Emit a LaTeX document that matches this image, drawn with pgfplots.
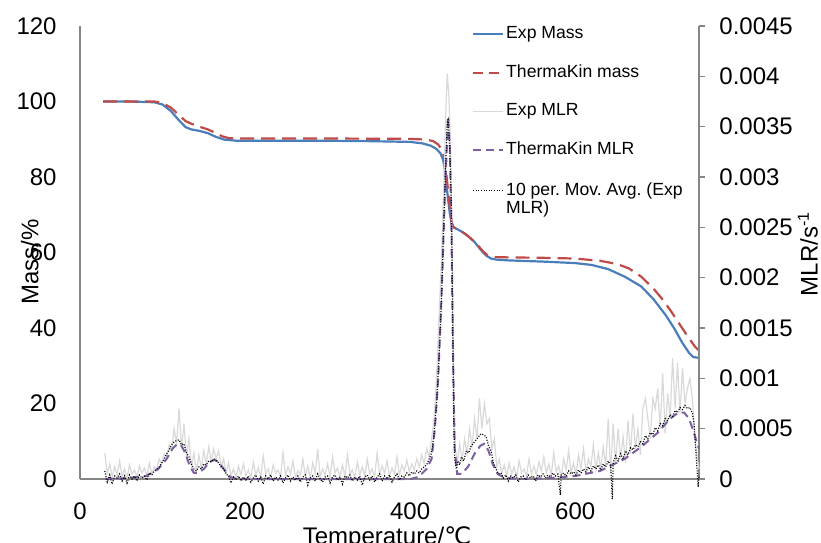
\documentclass[border=0pt]{standalone}
\usepackage{pgfplots}
\usepackage{pgfplotstable}
\pgfplotsset{compat=1.18}
\usepackage{fontspec}
\setmainfont{Liberation Sans}
\newfontfamily\dejavu{DejaVu Sans}
\definecolor{cblue}{HTML}{4A7EBB}
\definecolor{cred}{HTML}{BE4B48}
\definecolor{cpurple}{HTML}{7D60A0}
\definecolor{cgray}{HTML}{D9D9D9}
\definecolor{caxis}{HTML}{868686}

\pgfplotstableread[row sep=\\]{
x y\\
28 100\\ 60 100\\ 90 99.8\\ 100 99.2\\ 110 97.5\\ 120 95\\ 128 93.2\\ 135 92.6\\ 145 92.2\\ 155 91.6\\
165 90.6\\ 175 89.9\\ 190 89.6\\ 250 89.6\\ 300 89.6\\ 350 89.5\\ 400 89.3\\ 415 88.9\\ 425 88.3\\ 432 87.4\\
437 86.2\\ 440 84.5\\ 442 82\\ 444 78\\ 446 74\\ 448 70.5\\ 450 68\\ 452 66.8\\ 456 66.3\\ 462 65.6\\
470 64.4\\ 478 62.8\\ 486 60.6\\ 492 59.2\\ 498 58.4\\ 505 58.1\\ 520 57.9\\ 560 57.6\\ 600 57.2\\ 620 56.7\\
640 55.6\\ 660 53.6\\ 680 51.0\\ 695 47.6\\ 710 43.3\\ 720 39.9\\ 730 36.0\\ 738 33.4\\ 743 32.3\\ 750 32.1\\
}\tblexpmass

\pgfplotstableread[row sep=\\]{
x y\\
28 100\\ 90 100\\ 100 99.6\\ 110 98.4\\ 120 96.4\\ 128 94.8\\ 135 94.1\\ 145 93.3\\ 155 92.6\\ 165 91.6\\
172 90.8\\ 180 90.3\\ 200 90.2\\ 300 90.2\\ 400 90.1\\ 420 89.9\\ 428 89.5\\ 434 88.6\\ 438 87.3\\ 441 85.5\\
443 82.5\\ 445 78.5\\ 447 74\\ 449 70\\ 451 67.5\\ 453 66.6\\ 458 66.2\\ 465 65.2\\ 472 64\\ 480 62.4\\
488 60.4\\ 494 59.2\\ 500 58.8\\ 520 58.7\\ 560 58.6\\ 600 58.4\\ 630 57.8\\ 650 57\\ 665 55.8\\ 680 53.6\\
695 50.4\\ 705 47.8\\ 715 44.8\\ 725 41.5\\ 735 38.2\\ 745 35.1\\ 750 34\\
}\tbltkmass

\pgfplotstableread[row sep=\\]{
x y\\
30 0\\ 60 0.1e-4\\ 80 0.3e-4\\ 95 1.0e-4\\ 105 2.0e-4\\ 112 3.0e-4\\ 118 3.5e-4\\ 123 3.3e-4\\ 128 2.5e-4\\ 133 1.3e-4\\
138 0.6e-4\\ 143 0.6e-4\\ 150 1.0e-4\\ 157 1.7e-4\\ 163 1.9e-4\\ 168 1.7e-4\\ 175 0.9e-4\\ 182 0.2e-4\\ 190 0\\ 400 0\\
410 0.2e-4\\ 420 1.0e-4\\ 426 2.0e-4\\ 430 5.0e-4\\ 434 10e-4\\ 438 18e-4\\ 442 28e-4\\ 446 36e-4\\ 448 33e-4\\ 450 25e-4\\
452 12e-4\\ 454 3e-4\\ 457 0.5e-4\\ 462 0.5e-4\\ 470 1.2e-4\\ 478 2.5e-4\\ 485 3.3e-4\\ 490 3.5e-4\\ 495 2.8e-4\\ 500 1.5e-4\\
506 0.5e-4\\ 515 0.1e-4\\ 540 0\\ 570 0.1e-4\\ 600 0.3e-4\\ 630 0.8e-4\\ 660 2.0e-4\\ 680 3.2e-4\\ 700 4.6e-4\\ 715 6.0e-4\\
725 6.6e-4\\ 732 6.6e-4\\ 738 6.0e-4\\ 743 4.8e-4\\ 748 3.5e-4\\ 750 3.0e-4\\
}\tbltkmlr

\pgfplotstableread[row sep=\\]{
x y\\
30 2.6e-4\\ 33 0.5e-4\\ 36 1.5e-4\\ 39 0.2e-4\\ 42 1.2e-4\\ 45 0.4e-4\\ 48 1.8e-4\\ 51 0.3e-4\\ 54 1.0e-4\\ 57 0.1e-4\\
60 1.4e-4\\ 63 0.5e-4\\ 66 0.9e-4\\ 69 0.2e-4\\ 72 1.3e-4\\ 75 0.6e-4\\ 78 1.1e-4\\ 81 0.3e-4\\ 84 1.6e-4\\ 87 0.5e-4\\
90 1.2e-4\\ 93 1.0e-4\\ 96 2.0e-4\\ 99 1.5e-4\\ 102 2.5e-4\\ 105 2.2e-4\\ 108 3.4e-4\\ 111 2.8e-4\\ 114 5.0e-4\\ 117 3.5e-4\\
120 7.0e-4\\ 123 3.0e-4\\ 126 5.5e-4\\ 129 2.2e-4\\ 132 4.0e-4\\ 135 1.2e-4\\ 138 2.6e-4\\ 141 0.8e-4\\ 144 2.4e-4\\ 147 1.0e-4\\
150 2.8e-4\\ 153 1.5e-4\\ 156 3.2e-4\\ 159 1.8e-4\\ 162 3.0e-4\\ 165 2.0e-4\\ 168 2.8e-4\\ 171 1.2e-4\\ 174 2.0e-4\\ 177 0.6e-4\\
180 1.6e-4\\ 183 0.3e-4\\ 186 1.0e-4\\ 189 0.2e-4\\ 192 1.3e-4\\ 195 0.4e-4\\ 198 1.5e-4\\ 201 0.3e-4\\ 204 0.9e-4\\ 207 0.1e-4\\
210 1.7e-4\\ 213 0.4e-4\\ 216 1.1e-4\\ 219 0.2e-4\\ 222 2.3e-4\\ 225 0.5e-4\\ 228 1.0e-4\\ 231 0.1e-4\\ 234 1.4e-4\\ 237 0.6e-4\\
240 0.9e-4\\ 243 0.2e-4\\ 246 2.6e-4\\ 249 0.3e-4\\ 252 1.2e-4\\ 255 0.5e-4\\ 258 1.8e-4\\ 261 0.2e-4\\ 264 0.8e-4\\ 267 0.4e-4\\
270 2.0e-4\\ 273 0.3e-4\\ 276 1.3e-4\\ 279 0.1e-4\\ 282 1.6e-4\\ 285 0.5e-4\\ 288 3.0e-4\\ 291 0.2e-4\\ 294 1.0e-4\\ 297 0.4e-4\\
300 1.5e-4\\ 303 0.2e-4\\ 306 2.2e-4\\ 309 0.6e-4\\ 312 1.1e-4\\ 315 0.2e-4\\ 318 1.4e-4\\ 321 0.3e-4\\ 324 2.4e-4\\ 327 0.5e-4\\
330 0.9e-4\\ 333 0.1e-4\\ 336 1.7e-4\\ 339 0.4e-4\\ 342 1.2e-4\\ 345 0.3e-4\\ 348 2.0e-4\\ 351 0.5e-4\\ 354 1.0e-4\\ 357 0.2e-4\\
360 2.6e-4\\ 363 0.4e-4\\ 366 1.3e-4\\ 369 0.6e-4\\ 372 1.8e-4\\ 375 0.3e-4\\ 378 1.1e-4\\ 381 0.5e-4\\ 384 2.2e-4\\ 387 0.4e-4\\
390 1.4e-4\\ 393 0.8e-4\\ 396 1.9e-4\\ 399 0.7e-4\\ 402 1.5e-4\\ 405 0.9e-4\\ 408 2.0e-4\\ 411 1.2e-4\\ 414 2.4e-4\\ 417 1.5e-4\\
420 3.0e-4\\ 423 2.2e-4\\ 426 4.0e-4\\ 429 6.0e-4\\ 432 10e-4\\ 435 16e-4\\ 438 22e-4\\ 441 30e-4\\ 443 36e-4\\ 445 40.3e-4\\
447 38e-4\\ 449 33e-4\\ 451 22e-4\\ 453 8e-4\\ 455 3.0e-4\\ 457 1.5e-4\\ 460 3.5e-4\\ 463 1.8e-4\\ 466 4.0e-4\\ 469 2.5e-4\\
472 5.0e-4\\ 475 3.2e-4\\ 478 6.0e-4\\ 481 4.0e-4\\ 484 8.0e-4\\ 487 5.0e-4\\ 490 7.5e-4\\ 493 5.5e-4\\ 496 6.0e-4\\ 499 3.0e-4\\
502 4.0e-4\\ 505 1.2e-4\\ 508 2.0e-4\\ 511 0.5e-4\\ 514 1.4e-4\\ 517 0.3e-4\\ 520 1.6e-4\\ 523 0.5e-4\\ 526 1.2e-4\\ 529 0.2e-4\\
532 1.8e-4\\ 535 0.6e-4\\ 538 1.0e-4\\ 541 0.3e-4\\ 544 2.0e-4\\ 547 0.5e-4\\ 550 1.3e-4\\ 553 0.4e-4\\ 556 1.7e-4\\ 559 0.8e-4\\
562 2.2e-4\\ 565 0.6e-4\\ 568 1.5e-4\\ 571 0.4e-4\\ 574 2.6e-4\\ 577 0.7e-4\\ 580 1.3e-4\\ 583 0.2e-4\\ 586 2.0e-4\\ 589 0.9e-4\\
592 2.8e-4\\ 595 0.6e-4\\ 598 1.6e-4\\ 601 0.5e-4\\ 604 2.4e-4\\ 607 1.0e-4\\ 610 3.0e-4\\ 613 0.8e-4\\ 616 2.0e-4\\ 619 1.2e-4\\
622 3.4e-4\\ 625 0.9e-4\\ 628 2.6e-4\\ 631 1.0e-4\\ 634 3.2e-4\\ 637 1.3e-4\\ 640 6.0e-4\\ 643 0.6e-4\\ 646 5.5e-4\\ 649 1.5e-4\\
652 5.0e-4\\ 655 2.0e-4\\ 658 4.2e-4\\ 661 1.6e-4\\ 664 5.8e-4\\ 667 2.5e-4\\ 670 6.5e-4\\ 673 3.0e-4\\ 676 5.0e-4\\ 679 2.4e-4\\
682 7.0e-4\\ 685 8.0e-4\\ 688 6.0e-4\\ 691 4.0e-4\\ 694 8.0e-4\\ 697 7.0e-4\\ 700 9.0e-4\\ 703 5.0e-4\\ 706 10.5e-4\\ 709 4.5e-4\\
712 8.5e-4\\ 715 6.0e-4\\ 718 12.0e-4\\ 721 7.0e-4\\ 724 11.5e-4\\ 727 6.5e-4\\ 730 11.0e-4\\ 733 7.5e-4\\ 736 9.0e-4\\ 739 10.0e-4\\
742 8.0e-4\\ 745 4.0e-4\\ 748 2.0e-4\\ 750 1.0e-4\\
}\tblexpmlr

\pgfplotstableread[row sep=\\]{
x y\\
30 0.8e-4\\ 33 -0.3e-4\\ 36 0.4e-4\\ 39 -0.5e-4\\ 42 0.3e-4\\ 45 0.1e-4\\ 48 0.5e-4\\ 51 -0.2e-4\\ 54 0.3e-4\\ 57 -0.4e-4\\
60 0.4e-4\\ 63 0.0\\ 66 0.3e-4\\ 69 -0.2e-4\\ 72 0.4e-4\\ 75 0.1e-4\\ 78 0.3e-4\\ 81 -0.1e-4\\ 84 0.6e-4\\ 87 0.4e-4\\
90 0.8e-4\\ 93 1.0e-4\\ 96 1.2e-4\\ 99 1.6e-4\\ 102 2.0e-4\\ 105 2.5e-4\\ 108 2.9e-4\\ 111 3.4e-4\\ 114 3.7e-4\\ 117 3.8e-4\\
120 3.9e-4\\ 123 3.4e-4\\ 126 3.5e-4\\ 129 2.6e-4\\ 132 2.2e-4\\ 135 1.5e-4\\ 138 1.0e-4\\ 141 0.8e-4\\ 144 1.2e-4\\ 147 1.0e-4\\
150 1.5e-4\\ 153 1.4e-4\\ 156 1.8e-4\\ 159 1.7e-4\\ 162 2.0e-4\\ 165 1.8e-4\\ 168 1.6e-4\\ 171 1.2e-4\\ 174 1.0e-4\\ 177 0.5e-4\\
180 0.3e-4\\ 183 -0.4e-4\\ 186 0.2e-4\\ 189 -0.1e-4\\ 192 0.3e-4\\ 195 -0.2e-4\\ 198 0.2e-4\\ 201 -0.1e-4\\ 204 0.3e-4\\ 207 -0.3e-4\\
210 0.1e-4\\ 213 0.4e-4\\ 216 -0.2e-4\\ 219 0.2e-4\\ 222 -0.5e-4\\ 225 0.3e-4\\ 228 0.0\\ 231 0.4e-4\\ 234 -0.2e-4\\ 237 0.2e-4\\
240 -0.1e-4\\ 243 0.3e-4\\ 246 -0.4e-4\\ 249 0.1e-4\\ 252 0.4e-4\\ 255 -0.2e-4\\ 258 0.2e-4\\ 261 -0.1e-4\\ 264 0.3e-4\\ 267 -0.3e-4\\
270 0.2e-4\\ 273 0.4e-4\\ 276 -0.6e-4\\ 279 0.1e-4\\ 282 0.3e-4\\ 285 -0.2e-4\\ 288 0.5e-4\\ 291 0.0\\ 294 -0.3e-4\\ 297 0.2e-4\\
300 0.3e-4\\ 303 -0.4e-4\\ 306 0.2e-4\\ 309 0.4e-4\\ 312 -0.1e-4\\ 315 0.2e-4\\ 318 -0.5e-4\\ 321 0.3e-4\\ 324 0.1e-4\\ 327 0.4e-4\\
330 -0.2e-4\\ 333 0.2e-4\\ 336 -0.1e-4\\ 339 0.3e-4\\ 342 -0.6e-4\\ 345 0.2e-4\\ 348 0.4e-4\\ 351 -0.1e-4\\ 354 0.3e-4\\ 357 -0.3e-4\\
360 0.2e-4\\ 363 0.5e-4\\ 366 -0.2e-4\\ 369 0.3e-4\\ 372 0.0\\ 375 0.4e-4\\ 378 -0.3e-4\\ 381 0.2e-4\\ 384 0.5e-4\\ 387 -0.1e-4\\
390 0.3e-4\\ 393 0.2e-4\\ 396 0.6e-4\\ 399 0.3e-4\\ 402 0.7e-4\\ 405 0.5e-4\\ 408 0.8e-4\\ 411 0.6e-4\\ 414 1.0e-4\\ 417 1.2e-4\\
420 1.4e-4\\ 423 2.0e-4\\ 426 2.6e-4\\ 429 4.5e-4\\ 432 7.5e-4\\ 435 12e-4\\ 438 18e-4\\ 441 26e-4\\ 443 31e-4\\ 445 35.5e-4\\
446 35.7e-4\\ 448 33e-4\\ 450 27e-4\\ 451 20e-4\\ 452 12e-4\\ 453 5e-4\\ 454 2.0e-4\\ 456 1.0e-4\\ 458 1.8e-4\\ 460 1.4e-4\\
462 2.2e-4\\ 465 1.8e-4\\ 468 2.8e-4\\ 471 2.6e-4\\ 474 3.3e-4\\ 477 3.6e-4\\ 480 3.9e-4\\ 483 4.2e-4\\ 486 4.5e-4\\ 489 4.4e-4\\
492 4.2e-4\\ 495 3.3e-4\\ 498 2.8e-4\\ 501 1.6e-4\\ 504 1.0e-4\\ 507 0.5e-4\\ 510 0.6e-4\\ 513 0.1e-4\\ 516 0.4e-4\\ 519 -0.2e-4\\
522 0.3e-4\\ 525 0.1e-4\\ 528 0.4e-4\\ 531 -0.3e-4\\ 534 0.2e-4\\ 537 0.3e-4\\ 540 -0.1e-4\\ 543 0.4e-4\\ 546 0.1e-4\\ 549 0.3e-4\\
552 -0.2e-4\\ 555 0.4e-4\\ 558 0.2e-4\\ 561 0.5e-4\\ 564 0.1e-4\\ 567 0.4e-4\\ 570 0.2e-4\\ 573 0.6e-4\\ 576 0.3e-4\\ 579 0.5e-4\\
582 -1.6e-4\\ 583 0.4e-4\\ 586 0.6e-4\\ 589 0.3e-4\\ 592 0.8e-4\\ 595 0.5e-4\\ 598 0.7e-4\\ 601 0.4e-4\\ 604 0.9e-4\\ 607 0.6e-4\\
610 1.0e-4\\ 613 0.7e-4\\ 616 1.2e-4\\ 619 0.8e-4\\ 622 1.3e-4\\ 625 1.0e-4\\ 628 1.4e-4\\ 631 0.9e-4\\ 634 1.5e-4\\ 637 1.2e-4\\
640 1.8e-4\\ 643 1.3e-4\\ 645 -2.0e-4\\ 646 1.6e-4\\ 649 2.3e-4\\ 652 1.8e-4\\ 655 2.5e-4\\ 658 2.0e-4\\ 661 2.8e-4\\ 664 2.4e-4\\
667 3.1e-4\\ 670 2.9e-4\\ 673 3.4e-4\\ 676 3.2e-4\\ 679 3.7e-4\\ 682 3.5e-4\\ 685 4.3e-4\\ 688 4.0e-4\\ 691 4.6e-4\\ 694 4.4e-4\\
697 5.1e-4\\ 700 4.8e-4\\ 703 5.5e-4\\ 706 5.3e-4\\ 709 6.0e-4\\ 712 5.8e-4\\ 715 6.4e-4\\ 718 6.2e-4\\ 721 6.8e-4\\ 724 6.6e-4\\
727 7.1e-4\\ 730 6.9e-4\\ 733 7.3e-4\\ 736 7.0e-4\\ 739 7.1e-4\\ 742 6.5e-4\\ 744 5.5e-4\\ 746 3.0e-4\\ 748 0.5e-4\\ 749 -0.8e-4\\
750 0.2e-4\\
}\tblmovavg

\begin{document}
\frenchspacing
\fontsize{12}{14.4}\selectfont
\begin{tikzpicture}[font=\fontsize{12}{14.4}\selectfont]
\begin{axis}[
  name=ax1,
  scale only axis, width=309.5pt, height=226.5pt,
  xmin=0, xmax=750, ymin=0, ymax=120,
  axis y line*=left, axis x line*=bottom,
  axis line style={caxis, line width=0.8pt, -},
  xtick={0,200,400,600}, ytick={0,20,40,60,80,100,120},
  major tick length=0pt,
  /pgf/number format/assume math mode=true,
  tick label style={font=\fontsize{12}{14.4}\selectfont},
  xticklabel style={yshift=-7.5pt},
  yticklabel style={xshift=-7.5pt},
  ylabel={Mass/\%},
  xlabel={Temperature/{\dejavu ℃}},
  every axis y label/.style={at={(axis description cs:-0.081,0.479)}, rotate=90, anchor=center},
  every axis x label/.style={at={(axis description cs:0.496,-0.086)}, anchor=north},
]
\addplot[cblue, line width=1.1pt] table {\tblexpmass};
\addplot[cred, line width=1.1pt, dash pattern=on 7pt off 3.5pt] table {\tbltkmass};
\end{axis}
\begin{axis}[
  name=ax2,
  scale only axis, width=309.5pt, height=226.5pt,
  xmin=0, xmax=750, ymin=0, ymax=0.0045,
  axis y line*=right, axis x line=none,
  axis line style={caxis, line width=0.8pt, -},
  clip=false,
  scaled y ticks=false,
  ytick={0,0.0005,0.001,0.0015,0.002,0.0025,0.003,0.0035,0.004,0.0045},
  yticklabels={0,0.0005,0.001,0.0015,0.002,0.0025,0.003,0.0035,0.004,0.0045},
  tick align=outside, major tick length=3pt,
  ytick style={caxis, line width=0.8pt},
  tick label style={font=\fontsize{12}{14.4}\selectfont},
  yticklabel style={xshift=3pt},
  ylabel={MLR/s\textsuperscript{-1}},
  every axis y label/.style={at={(axis description cs:1.176,0.497)}, rotate=90, anchor=center},
  legend style={at={(axis description cs:0.623,1.013)}, anchor=north west, draw=none, fill=none,
     font=\fontsize{8.8}{10.5}\selectfont, row sep=9.3pt,
     nodes={inner sep=1pt}},
  legend cell align=left,
  legend image code/.code={\draw[#1] (0pt,0pt) -- (15pt,0pt);},
]
\addlegendimage{cblue, line width=1.1pt}
\addlegendentry{Exp Mass}
\addlegendimage{cred, line width=1.1pt, dash pattern=on 5pt off 3pt}
\addlegendentry{ThermaKin mass}
\addplot[cgray, line width=0.6pt] table {\tblexpmlr};
\addlegendentry{Exp MLR}
\addplot[cpurple, line width=1.0pt, dash pattern=on 4pt off 2.5pt] table {\tbltkmlr};
\addlegendentry{ThermaKin MLR}
\addplot[black, line width=0.6pt, dash pattern=on 0.5pt off 0.8pt, legend image post style={line width=0.45pt}] table {\tblmovavg};
\addlegendentry{\raisebox{0pt}[\height][0pt]{\begin{tabular}[t]{@{}l@{}}10 per. Mov. Avg. (Exp\\[-1.5pt]MLR)\end{tabular}}}
\end{axis}
\pgfresetboundingbox
\path ([xshift=-40pt,yshift=-31.5pt]ax1.south west) rectangle ([xshift=61pt,yshift=13pt]ax1.north east);
\end{tikzpicture}
\end{document}
